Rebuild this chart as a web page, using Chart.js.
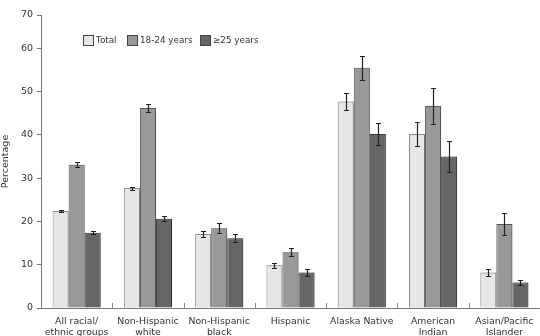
<!DOCTYPE html>
<html>
<head>
<meta charset="utf-8">
<script src="https://cdn.jsdelivr.net/npm/chart.js@4.4.1/dist/chart.umd.min.js"></script>
<style>
  html, body { margin: 0; padding: 0; background: #fff; }
  #wrap { width: 540px; height: 336px; position: relative; }
</style>
</head>
<body>
<div id="wrap"><canvas id="chart"></canvas></div>
<script>
// categories and series
const categories = [
  ['All racial/', 'ethnic groups'],
  ['Non-Hispanic', 'white'],
  ['Non-Hispanic', 'black'],
  'Hispanic',
  'Alaska Native',
  ['American', 'Indian'],
  ['Asian/Pacific', 'Islander']
];
const seriesNames = ['Total', '18-24 years', '\u226525 years'];
const totalVals = [22.4, 27.7, 17.1, 9.9, 47.7, 40.2, 8.2];
const youngVals = [33.1, 46.2, 18.4, 12.9, 55.5, 46.7, 19.4];
const olderVals = [17.4, 20.6, 16.1, 8.2, 40.2, 35.0, 5.9];
// half-width of the confidence interval drawn as error bars
const totalErr = [0.3, 0.35, 0.65, 0.55, 1.9, 2.8, 0.75];
const youngErr = [0.6, 1.0, 1.15, 1.0, 2.8, 4.2, 2.6];
const olderErr = [0.35, 0.55, 0.95, 0.7, 2.6, 3.6, 0.65];
const yTicks = [0, 10, 20, 30, 40, 50, 60, 70];

const fills = ['#e6e6e6', '#999999', '#666666'];
const borders = ['#8a8a8a', '#555555', '#3a3a3a'];
const FONT = 'DejaVu Sans, Verdana, sans-serif';
const TXT = '#333';

const seriesVals = [totalVals, youngVals, olderVals];
const seriesErr = [totalErr, youngErr, olderErr];

// the reference draws its top tick (70) a little lower than a linear axis would;
// keep the linear spacing of 0..60 and pin the last label at the plot top
const yTop = 67.7;

const errorBars = {
  id: 'errorBars',
  afterDatasetsDraw(chart) {
    const ctx = chart.ctx, y = chart.scales.y;
    ctx.save();
    ctx.strokeStyle = '#222';
    ctx.lineWidth = 1.2;
    chart.data.datasets.forEach((ds, di) => {
      const meta = chart.getDatasetMeta(di);
      meta.data.forEach((bar, i) => {
        const v = ds.data[i], e = ds.err[i];
        const yt = Math.round(y.getPixelForValue(v + e)) + 0.5;
        const yb = Math.round(y.getPixelForValue(v - e)) + 0.5;
        const x = Math.round(bar.x) + 0.5;
        ctx.beginPath();
        ctx.moveTo(x, yt); ctx.lineTo(x, yb);
        ctx.moveTo(x - 2.5, yt); ctx.lineTo(x + 2.5, yt);
        ctx.moveTo(x - 2.5, yb); ctx.lineTo(x + 2.5, yb);
        ctx.stroke();
      });
    });
    ctx.restore();
  }
};

const barShadow = {
  id: 'barShadow',
  beforeDatasetsDraw(chart) {
    const ctx = chart.ctx;
    ctx.save();
    ctx.shadowColor = 'rgba(0,0,0,0.22)';
    ctx.shadowOffsetX = 2;
    ctx.shadowOffsetY = 0;
    ctx.shadowBlur = 0;
  },
  afterDatasetsDraw(chart) { chart.ctx.restore(); }
};

// small upward ticks between the category groups
const catTicks = {
  id: 'catTicks',
  afterDraw(chart) {
    const ctx = chart.ctx, x = chart.scales.x, a = chart.chartArea;
    ctx.save();
    ctx.strokeStyle = '#888';
    ctx.lineWidth = 1;
    for (let i = 1; i < categories.length; i++) {
      const px = Math.round((x.getPixelForValue(i - 1) + x.getPixelForValue(i)) / 2) + 0.5;
      ctx.beginPath();
      ctx.moveTo(px, a.bottom);
      ctx.lineTo(px, a.bottom - 5);
      ctx.stroke();
    }
    ctx.restore();
  }
};

const boxLegend = {
  id: 'boxLegend',
  afterDraw(chart) {
    const ctx = chart.ctx;
    const slots = [83, 127, 200];
    ctx.save();
    ctx.font = '8.8px ' + FONT;
    ctx.textBaseline = 'middle';
    chart.data.datasets.forEach((ds, i) => {
      const x = slots[i] + 0.5, y = 35.5;
      ctx.fillStyle = ds.backgroundColor;
      ctx.fillRect(x, y, 10, 10);
      ctx.strokeStyle = '#444';
      ctx.lineWidth = 1;
      ctx.strokeRect(x, y, 10, 10);
      ctx.fillStyle = TXT;
      ctx.fillText(ds.label, slots[i] + 13, 41);
    });
    ctx.restore();
  }
};

const datasets = seriesNames.map((name, i) => ({
  label: name,
  data: seriesVals[i],
  err: seriesErr[i],
  backgroundColor: fills[i],
  borderColor: borders[i],
  borderWidth: 1,
  categoryPercentage: 0.675,
  barPercentage: 1.0
}));

new Chart(document.getElementById('chart'), {
  type: 'bar',
  data: { labels: categories, datasets },
  plugins: [barShadow, errorBars, catTicks, boxLegend],
  options: {
    responsive: true,
    maintainAspectRatio: false,
    animation: false,
    layout: { padding: { top: 15, right: 0, left: 0, bottom: 0 } },
    plugins: { legend: { display: false }, tooltip: { enabled: false } },
    scales: {
      x: {
        grid: { display: false, drawTicks: false, tickLength: 0 },
        border: { color: '#777' },
        ticks: { color: TXT, font: { family: FONT, size: 9.3, lineHeight: 1.2 }, padding: 8, maxRotation: 0, autoSkip: false },
        afterFit(s) { s.height = 28; s.paddingLeft = 0; s.paddingRight = 0; }
      },
      y: {
        min: 0,
        max: yTop,
        border: { color: '#777' },
        grid: { drawOnChartArea: false, drawTicks: true, tickLength: 4, color: '#777' },
        afterBuildTicks(s) {
          s.ticks = yTicks.map(v => ({ value: v === 70 ? yTop : v, label: String(v) }));
        },
        ticks: {
          color: TXT, font: { family: FONT, size: 9.5 }, padding: 4,
          callback(v) { return v === yTop ? '70' : String(v); }
        },
        title: { display: true, text: 'Percentage', color: TXT, font: { family: FONT, size: 9.5 }, padding: { top: 0, bottom: 4 } },
        afterFit(s) { s.width = 41; }
      }
    }
  }
});
</script>
</body>
</html>
